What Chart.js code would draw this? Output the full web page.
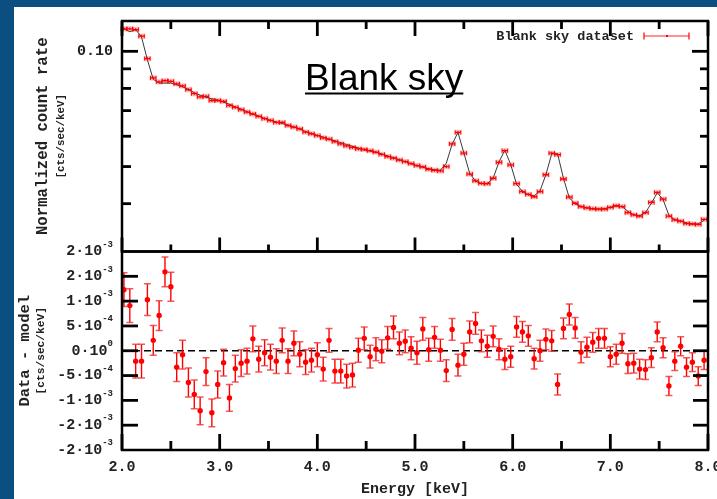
<!DOCTYPE html>
<html>
<head>
<meta charset="utf-8">
<script src="https://cdn.jsdelivr.net/npm/chart.js@4.4.0/dist/chart.umd.min.js"></script>
<style>
  html, body { margin: 0; padding: 0; background: #0a4f80; }
  #wrap { position: relative; width: 717px; height: 499px; overflow: hidden; }
  #paper { position: absolute; left: 14px; top: 7px; width: 703px; height: 492px; background: #fff; }
  canvas { position: absolute; left: 0; top: 0; }
</style>
</head>
<body>
<div id="wrap">
  <div id="paper"></div>
  <canvas id="spec" width="717" height="499"></canvas>
  <canvas id="resid" width="717" height="499"></canvas>
</div>
<script>
// bin centres [keV]
const energy = [2.02,2.08,2.14,2.20,2.26,2.32,2.38,2.44,2.50,2.56,2.62,2.68,2.74,2.80,2.86,2.92,2.98,3.04,3.10,3.16,
  3.22,3.28,3.34,3.40,3.46,3.52,3.58,3.64,3.70,3.76,3.82,3.88,3.94,4.00,4.06,4.12,4.18,4.24,4.30,4.36,
  4.42,4.48,4.54,4.60,4.66,4.72,4.78,4.84,4.90,4.96,5.02,5.08,5.14,5.20,5.26,5.32,5.38,5.44,5.50,5.56,
  5.62,5.68,5.74,5.80,5.86,5.92,5.98,6.04,6.10,6.16,6.22,6.28,6.34,6.40,6.46,6.52,6.58,6.64,6.70,6.76,
  6.82,6.88,6.94,7.00,7.06,7.12,7.18,7.24,7.30,7.36,7.42,7.48,7.54,7.60,7.66,7.72,7.78,7.84,7.90,7.96];

// normalized count rate [cts/sec/keV]
const rate = [0.1145,0.1145,0.1140,0.1095,0.0957,0.0852,0.0832,0.0838,0.0835,0.0822,
  0.0812,0.0794,0.0775,0.0760,0.0763,0.0744,0.0744,0.0740,0.0722,0.0714,
  0.0704,0.0694,0.0686,0.0676,0.0667,0.0660,0.0652,0.0652,0.0640,0.0634,
  0.0627,0.0615,0.0609,0.0602,0.0594,0.0590,0.0581,0.0573,0.0566,0.0561,
  0.0556,0.0554,0.0550,0.0545,0.0538,0.0531,0.0526,0.0520,0.0515,0.0509,
  0.0503,0.0499,0.0492,0.0489,0.0487,0.0500,0.0573,0.0614,0.0542,0.0478,
  0.0459,0.0452,0.0451,0.0466,0.0513,0.0550,0.0505,0.0451,0.0430,0.0423,
  0.0417,0.0430,0.0476,0.0542,0.0537,0.0464,0.0416,0.0401,0.0393,0.0390,
  0.0388,0.0387,0.0387,0.0391,0.0395,0.0393,0.0379,0.0374,0.0371,0.0379,
  0.0403,0.0428,0.0411,0.0371,0.0363,0.0360,0.0355,0.0354,0.0353,0.0364];

// folded model
const model = [0.1145,0.1125,0.1140,0.1090,0.0950,0.0845,0.0826,0.0826,0.0826,0.0818,
  0.0808,0.0795,0.0780,0.0768,0.0758,0.0752,0.0745,0.0737,0.0727,0.0716,
  0.0706,0.0696,0.0685,0.0677,0.0668,0.0660,0.0653,0.0648,0.0641,0.0634,
  0.0627,0.0617,0.0610,0.0603,0.0597,0.0589,0.0584,0.0577,0.0571,0.0565,
  0.0559,0.0553,0.0549,0.0545,0.0539,0.0533,0.0528,0.0521,0.0515,0.0509,
  0.0503,0.0498,0.0493,0.0490,0.0489,0.0510,0.0572,0.0614,0.0543,0.0480,
  0.0458,0.0451,0.0451,0.0466,0.0514,0.0552,0.0506,0.0450,0.0430,0.0422,
  0.0419,0.0432,0.0476,0.0540,0.0540,0.0466,0.0414,0.0400,0.0393,0.0390,
  0.0388,0.0387,0.0388,0.0391,0.0395,0.0393,0.0382,0.0374,0.0372,0.0379,
  0.0401,0.0427,0.0410,0.0373,0.0363,0.0360,0.0356,0.0354,0.0354,0.0362];

// data - model, in units of 1e-4 cts/sec/keV
const resid = [12.3,9.1,-2.1,-2.1,10.3,2.1,7.1,15.9,12.9,-3.3,
  -0.8,-6.4,-8.8,-12.1,-4.2,-12.5,-6.8,-2.4,-9.5,-3.6,
  -2.5,-2.1,2.4,-1.7,-0.4,-1.3,-2.1,2.1,-2.1,1.5,
  -0.7,-2.3,-1.9,-0.8,-3.7,2.1,-4.1,-4.1,-5.1,-4.9,
  0.1,2.5,-1.2,0.3,-0.1,2.6,4.7,1.5,1.9,0.5,
  -0.4,4.4,0.2,2.7,0.1,-4.0,4.3,-2.9,-0.7,3.8,
  5.5,2.0,0.9,2.9,0.3,-1.7,-1.2,4.8,3.8,3.0,
  -1.6,0.0,2.3,2.0,-6.8,4.5,7.3,4.6,-0.3,0.7,
  1.7,2.5,2.5,-1.2,-0.7,1.5,-2.6,-2.5,-3.7,-3.8,
  -1.4,3.8,0.6,-7.1,-2.1,0.9,-3.3,-2.3,-5.1,-1.9];

const residErr = [3.4,3.4,3.4,3.4,3.2,3.0,3.0,3.0,2.9,2.9,
  2.9,2.9,2.9,2.8,2.8,2.8,2.7,2.7,2.7,2.7,
  2.7,2.6,2.6,2.6,2.6,2.6,2.5,2.5,2.5,2.5,
  2.5,2.5,2.4,2.4,2.4,2.4,2.4,2.4,2.4,2.4,
  2.4,2.3,2.3,2.3,2.3,2.3,2.3,2.3,2.3,2.3,
  2.3,2.3,2.3,2.2,2.2,2.2,2.2,2.2,2.2,2.2,
  2.2,2.2,2.2,2.1,2.1,2.1,2.1,2.1,2.1,2.1,
  2.1,2.1,2.1,2.1,2.1,2.1,2.1,2.1,2.1,2.0,
  2.0,2.0,2.0,2.0,2.0,2.0,2.0,2.0,2.0,2.0,
  2.0,2.0,2.0,1.9,1.9,1.9,1.9,1.9,1.9,1.9];

// ticks
const xMajor = [2, 3, 4, 5, 6, 7, 8];
const xMajorLabels = ['2.0', '3.0', '4.0', '5.0', '6.0', '7.0', '8.0'];
const xMinor = [2.5, 3.5, 4.5, 5.5, 6.5, 7.5];
const specMajor = [0.1];
const specMajorLabels = ['0.10'];
const specMinor = [0.04, 0.05, 0.06, 0.07, 0.08, 0.09];
const residTicks = [15, 10, 5, 0, -5, -10, -15];
const residLabelVals = [20, 15, 10, 5, 0, -5, -10, -15, -20];
const residMant = ['2', '2', '1', '5', '0', '-5', '-1', '-2', '-2'];
const residExp = ['-3', '-3', '-3', '-4', '0', '-4', '-3', '-3', '-3'];

const MONO = '"Liberation Mono", "DejaVu Sans Mono", monospace';
const INK = '#222';

function line(ctx, x1, y1, x2, y2) {
  ctx.beginPath(); ctx.moveTo(x1, y1); ctx.lineTo(x2, y2); ctx.stroke();
}
function vtext(ctx, s, x, y, font) {
  ctx.save();
  ctx.translate(x, y); ctx.rotate(-Math.PI / 2);
  ctx.font = font; ctx.fillStyle = INK;
  ctx.textAlign = 'center'; ctx.textBaseline = 'middle';
  ctx.fillText(s, 0, 0);
  ctx.restore();
}

const specDeco = {
  id: 'specDeco',
  beforeDatasetsDraw(chart) {
    const { ctx, scales: { x, y } } = chart;
    ctx.save();
    ctx.fillStyle = 'rgba(255,110,110,0.45)';
    rate.forEach((v, i) => {
      const px = x.getPixelForValue(energy[i]);
      const py = y.getPixelForValue(v);
      ctx.fillRect(px - 3.8, py - 2.6, 7.6, 5.2);
    });
    ctx.restore();
  },
  afterDatasetsDraw(chart) {
    const { ctx, scales: { x, y } } = chart;
    ctx.save();
    ctx.strokeStyle = '#f00'; ctx.lineWidth = 1;
    rate.forEach((v, i) => {
      const px = x.getPixelForValue(energy[i]);
      const hw = x.getPixelForValue(energy[i] + 0.028) - px;
      const py = y.getPixelForValue(v);
      line(ctx, px - hw, py - 2, px - hw, py + 2);
      line(ctx, px + hw, py - 2, px + hw, py + 2);
      line(ctx, px, py - 1.5, px, py + 1.5);
    });
    ctx.restore();
  },
  afterDraw(chart) {
    const { ctx, chartArea: a, scales: { x, y } } = chart;
    ctx.save();
    ctx.strokeStyle = '#000';
    ctx.lineWidth = 2.8;
    xMajor.forEach(v => {
      const px = x.getPixelForValue(v);
      line(ctx, px, a.top, px, a.top + 15);
      line(ctx, px, a.bottom, px, a.bottom - 14);
    });
    xMinor.forEach(v => {
      const px = x.getPixelForValue(v);
      line(ctx, px, a.top, px, a.top + 8);
      line(ctx, px, a.bottom, px, a.bottom - 7);
    });
    specMajor.forEach(v => {
      const py = y.getPixelForValue(v);
      line(ctx, a.left, py, a.left + 16, py);
      line(ctx, a.right, py, a.right - 16, py);
    });
    specMinor.forEach(v => {
      const py = y.getPixelForValue(v);
      line(ctx, a.left, py, a.left + 9, py);
      line(ctx, a.right, py, a.right - 8, py);
    });
    ctx.lineWidth = 2.5;
    ctx.strokeRect(a.left, a.top, a.right - a.left, a.bottom - a.top);

    ctx.fillStyle = INK;
    ctx.font = 'bold 15px ' + MONO;
    ctx.textAlign = 'right'; ctx.textBaseline = 'middle';
    specMajor.forEach((v, i) => ctx.fillText(specMajorLabels[i], a.left - 9, y.getPixelForValue(v)));

    vtext(ctx, 'Normalized count rate', 43, (a.top + a.bottom) / 2, 'bold 15.7px ' + MONO);
    vtext(ctx, '[cts/sec/keV]', 61, (a.top + a.bottom) / 2, 'bold 10.8px ' + MONO);

    // legend
    ctx.font = 'bold 13.5px ' + MONO;
    ctx.fillStyle = INK;
    ctx.textAlign = 'right';
    ctx.fillText('Blank sky dataset', 634, 37);
    ctx.strokeStyle = 'rgba(255,60,60,0.75)'; ctx.lineWidth = 1.3;
    line(ctx, 644, 36, 689, 36);
    ctx.strokeStyle = '#f00'; ctx.lineWidth = 1.2;
    line(ctx, 644, 32.5, 644, 39.5);
    line(ctx, 689, 32.5, 689, 39.5);
    ctx.fillStyle = '#f00';
    ctx.fillRect(666, 35, 2, 2);

    // title
    ctx.font = '37px "Liberation Sans", Arial, sans-serif';
    ctx.fillStyle = '#000';
    ctx.textAlign = 'left'; ctx.textBaseline = 'alphabetic';
    ctx.fillText('Blank sky', 305, 89.5);
    const w = ctx.measureText('Blank sky').width;
    ctx.fillRect(305, 92.5, w, 2);
    ctx.restore();
  }
};

const residDeco = {
  id: 'residDeco',
  afterDatasetsDraw(chart) {
    const { ctx, scales: { x, y } } = chart;
    ctx.save();
    ctx.beginPath();
    ctx.rect(chart.chartArea.left, chart.chartArea.top, chart.chartArea.right - chart.chartArea.left, chart.chartArea.bottom - chart.chartArea.top);
    ctx.clip();
    resid.forEach((v, i) => {
      const px = x.getPixelForValue(energy[i]);
      const y1 = y.getPixelForValue(v + residErr[i]);
      const y2 = y.getPixelForValue(v - residErr[i]);
      ctx.strokeStyle = '#f00'; ctx.lineWidth = 1.4;
      line(ctx, px, y1, px, y2);
      ctx.strokeStyle = 'rgba(240,50,50,0.8)'; ctx.lineWidth = 1.5;
      line(ctx, px - 3.5, y1, px + 3.5, y1);
      line(ctx, px - 3.5, y2, px + 3.5, y2);
    });
    ctx.restore();
  },
  afterDraw(chart) {
    const { ctx, chartArea: a, scales: { x, y } } = chart;
    ctx.save();
    ctx.strokeStyle = '#000';
    ctx.lineWidth = 2.8;
    xMajor.forEach(v => {
      const px = x.getPixelForValue(v);
      line(ctx, px, a.bottom, px, a.bottom - 16);
    });
    xMinor.forEach(v => {
      const px = x.getPixelForValue(v);
      line(ctx, px, a.bottom, px, a.bottom - 9);
    });
    residTicks.forEach(v => {
      const py = y.getPixelForValue(v);
      line(ctx, a.left, py, a.left + 16, py);
      line(ctx, a.right, py, a.right - 15, py);
    });
    ctx.lineWidth = 2.5;
    ctx.strokeRect(a.left, a.top, a.right - a.left, a.bottom - a.top);

    ctx.fillStyle = INK;
    ctx.textBaseline = 'middle';
    // y labels  m·10^e
    residLabelVals.forEach((v, i) => {
      const py = y.getPixelForValue(v);
      const right = a.left - 9;
      ctx.font = 'bold 9px ' + MONO;
      const ew = ctx.measureText(residExp[i]).width;
      ctx.textAlign = 'right';
      ctx.fillText(residExp[i], right, py - 7);
      ctx.font = 'bold 15px ' + MONO;
      ctx.fillText(residMant[i] + '\u00b710', right - ew, py);
    });
    // x labels
    ctx.font = 'bold 15px ' + MONO;
    ctx.textAlign = 'center';
    xMajor.forEach((v, i) => ctx.fillText(xMajorLabels[i], x.getPixelForValue(v), 467));
    ctx.fillText('Energy [keV]', (a.left + a.right) / 2, 489.5);

    vtext(ctx, 'Data - model', 25, (a.top + a.bottom) / 2, 'bold 15.5px ' + MONO);
    vtext(ctx, '[cts/sec/keV]', 41, (a.top + a.bottom) / 2, 'bold 11.2px ' + MONO);
    ctx.restore();
  }
};

const common = {
  responsive: false,
  animation: false,
  events: [],
  plugins: { legend: { display: false }, tooltip: { enabled: false } }
};

new Chart(document.getElementById('spec'), {
  type: 'scatter',
  data: {
    datasets: [
      {
        label: 'Blank sky dataset',
        data: energy.map((e, i) => ({ x: e, y: rate[i] })),
        pointStyle: 'line',
        pointRadius: 2.8,
        borderColor: '#f00',
        borderWidth: 1.3
      },
      {
        label: 'model',
        type: 'line',
        data: energy.map((e, i) => ({ x: e, y: model[i] })),
        borderColor: '#3a3a3a',
        borderWidth: 1,
        pointRadius: 0,
        tension: 0,
        fill: false
      }
    ]
  },
  options: Object.assign({}, common, {
    layout: { padding: { left: 122, top: 21, right: 9, bottom: 247.5 } },
    scales: {
      x: { type: 'linear', min: 2, max: 8, display: false },
      y: { type: 'logarithmic', min: 0.03, max: 0.12, display: false }
    }
  }),
  plugins: [specDeco]
});

new Chart(document.getElementById('resid'), {
  type: 'scatter',
  data: {
    datasets: [
      {
        label: 'residuals',
        data: energy.map((e, i) => ({ x: e, y: resid[i] })),
        pointRadius: 2.7,
        pointBackgroundColor: '#f00',
        borderWidth: 0
      },
      {
        label: 'zero',
        type: 'line',
        data: [{ x: 2, y: 0 }, { x: 8, y: 0 }],
        borderColor: '#000',
        borderWidth: 1.3,
        borderDash: [7, 4],
        pointRadius: 0
      }
    ]
  },
  options: Object.assign({}, common, {
    layout: { padding: { left: 122, top: 251.5, right: 9, bottom: 49 } },
    scales: {
      x: { type: 'linear', min: 2, max: 8, display: false },
      y: { type: 'linear', min: -20, max: 20, display: false }
    }
  }),
  plugins: [residDeco]
});
</script>
</body>
</html>
